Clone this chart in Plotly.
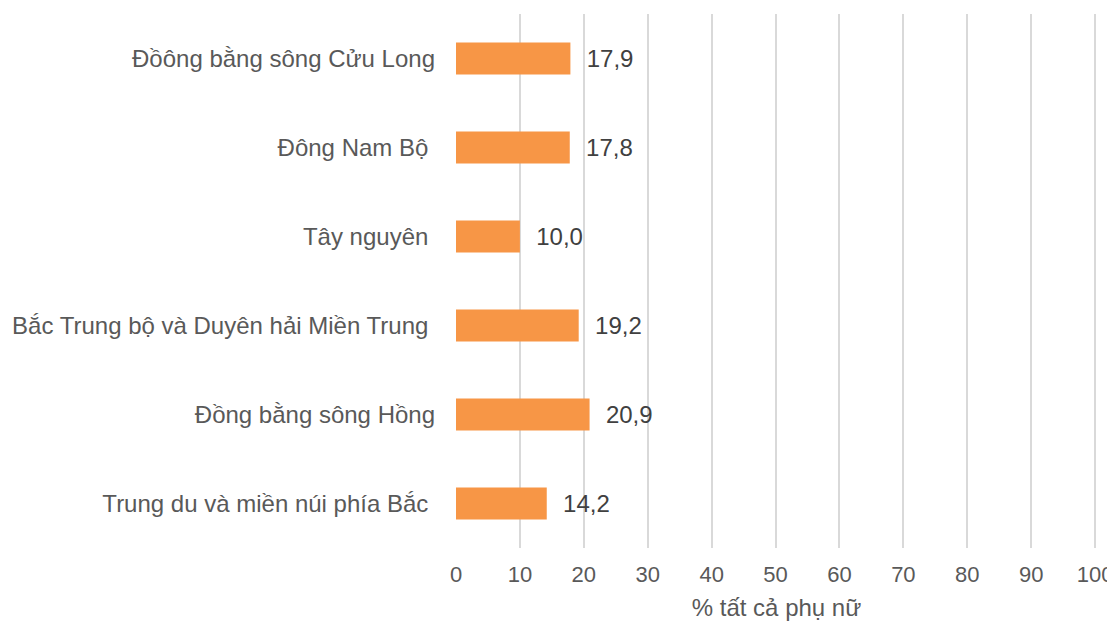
import plotly.graph_objects as go

categories = [
    "Trung du và miền núi phía Bắc ",
    "Đồng bằng sông Hồng",
    "Bắc Trung bộ và Duyên hải Miền Trung ",
    "Tây nguyên ",
    "Đông Nam Bộ ",
    "Đồông bằng sông Cửu Long",
]
values = [14.2, 20.9, 19.2, 10.0, 17.8, 17.9]
x_ticks = [0, 10, 20, 30, 40, 50, 60, 70, 80, 90, 100]
x_title = "% tất cả phụ nữ"

labels = ["  " + f"{v:.1f}".replace(".", ",") for v in values]

FS = 24

fig = go.Figure(
    go.Bar(
        y=categories,
        x=values,
        orientation="h",
        marker=dict(color="#F79646", line=dict(width=0)),
        width=0.36,
        text=labels,
        textposition="outside",
        textfont=dict(family="Liberation Sans, Arial", size=FS, color="#404040"),
        cliponaxis=False,
    )
)

# page body has an 8px margin, so the figure is offset by 8px
fig.update_layout(
    width=1107,
    height=613,
    margin=dict(l=448, r=18, t=6, b=73, autoexpand=False),
    paper_bgcolor="white",
    plot_bgcolor="white",
    showlegend=False,
    font=dict(family="Liberation Sans, Arial", size=FS, color="#595959"),
    xaxis=dict(
        automargin=False,
        range=[0, 100.3],
        tickvals=x_ticks,
        ticktext=[str(t) for t in x_ticks],
        ticklabeloverflow="allow",
        showgrid=True,
        gridcolor="#D9D9D9",
        gridwidth=1.5,
        zeroline=False,
        showline=False,
        ticks="outside",
        ticklen=7,
        tickcolor="rgba(0,0,0,0)",
        tickfont=dict(size=22, color="#595959"),
        title=dict(text=x_title, font=dict(size=FS, color="#595959"), standoff=16),
    ),
    yaxis=dict(
        automargin=False,
        showgrid=False,
        zeroline=False,
        showline=False,
        ticks="",
        ticklabelstandoff=20,
        tickfont=dict(size=FS, color="#595959"),
        range=[-0.5, 5.5],
    ),
)

fig.write_html("out.html")
